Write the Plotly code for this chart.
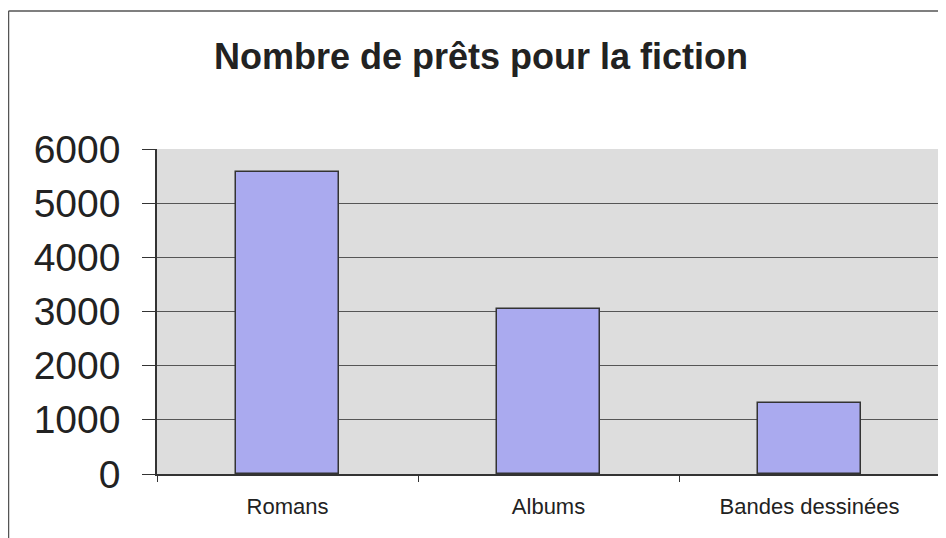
import plotly.graph_objects as go

categories = ["Romans", "Albums", "Bandes dessinées"]
values = [5580, 3050, 1320]
y_ticks = [0, 1000, 2000, 3000, 4000, 5000, 6000]
title_text = "Nombre de prêts pour la fiction"

# page has an 8px body margin, so the figure is sized to fit the window
OFF = 8
W, H = 946 - OFF, 538 - OFF
L, R, T, B = 157 - OFF, 6, 149 - OFF, 64
pw = W - L - R
ph = H - T - B

fig = go.Figure()
fig.add_trace(go.Bar(
    x=categories, y=values, width=0.395,
    marker=dict(color="#aaaaef", line=dict(color="#333333", width=1.5)),
))

# outer frame (top and left lines)
fx = (0.5 - L) / pw
fy = (H - B - 3) / ph
fig.add_shape(type="line", xref="paper", yref="paper", x0=fx, x1=1.2, y0=fy, y1=fy,
              line=dict(color="#555555", width=1.5))
fig.add_shape(type="line", xref="paper", yref="paper", x0=fx, x1=fx, y0=fy, y1=-0.3,
              line=dict(color="#555555", width=1.5))
# plot area right border
fig.add_shape(type="line", xref="paper", yref="paper", x0=1, x1=1, y0=0, y1=1,
              line=dict(color="#999999", width=1), layer="below")

fig.update_layout(
    width=W, height=H,
    margin=dict(l=L, r=R, t=T, b=B, pad=0),
    paper_bgcolor="white", plot_bgcolor="#dddddd",
    showlegend=False, bargap=0,
    font=dict(family="Liberation Sans, Arial, sans-serif", color="#222222"),
    title=dict(text="<b>" + title_text + "</b>", xref="container", yref="container",
               x=(481 - OFF) / W, y=1 - (56 - OFF) / H, xanchor="center", yanchor="middle",
               font=dict(size=36, color="#222222")),
)
fig.update_xaxes(
    showline=True, linecolor="#333333", linewidth=1.5,
    ticks="outside", tickson="boundaries", ticklen=6, tickcolor="#333333",
    tickfont=dict(size=22, color="#222222"), ticklabelstandoff=12,
    showgrid=False,
)
fig.update_yaxes(
    range=[0, 6000], tickvals=y_ticks, ticktext=[str(v) for v in y_ticks],
    showline=True, linecolor="#333333", linewidth=1.5,
    ticks="outside", ticklen=13, tickcolor="#333333",
    tickfont=dict(size=39, color="#222222"), ticklabelstandoff=14,
    showgrid=True, gridcolor="#555555", gridwidth=1, zeroline=False,
)
fig.write_html("out.html")
